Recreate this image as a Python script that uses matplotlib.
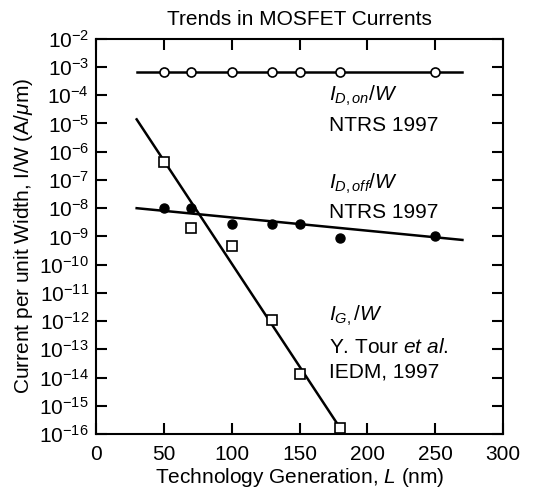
import numpy as np
import matplotlib
matplotlib.use("Agg")
import matplotlib.pyplot as plt
from matplotlib.ticker import LogLocator, NullLocator, FixedLocator

plt.rcParams['font.family'] = ['Liberation Sans', 'DejaVu Sans']
plt.rcParams['mathtext.fontset'] = 'custom'
plt.rcParams['mathtext.rm'] = 'Liberation Sans'
plt.rcParams['mathtext.it'] = 'Liberation Sans:italic'
plt.rcParams['mathtext.bf'] = 'Liberation Sans:bold'

# technology generation (nm)
gen_on = [50, 70, 100, 130, 150, 180, 250]
id_on = [6.6e-4, 6.6e-4, 6.6e-4, 6.6e-4, 6.6e-4, 6.6e-4, 6.6e-4]

gen_off = [50, 70, 100, 130, 150, 180, 250]
id_off = [1.0e-8, 1.0e-8, 2.8e-9, 2.8e-9, 2.8e-9, 9.0e-10, 1.0e-9]

gen_g = [50, 70, 100, 130, 150, 180]
ig = [4.5e-7, 2.0e-9, 4.5e-10, 1.1e-12, 1.3e-14, 1.6e-16]

# trend lines (end points)
fit_on_x, fit_on_y = [30, 270], [6.6e-4, 6.6e-4]
fit_off_x, fit_off_y = [30, 270], [1.0e-8, 7.5e-10]
fit_g_x, fit_g_y = [30, 180], [1.4e-5, 1.6e-16]

fig = plt.figure(figsize=(5.33, 4.91), dpi=100)
ax = fig.add_axes([0.180, 0.116, 0.764, 0.805])

lw = 1.8
ax.plot(fit_on_x, fit_on_y, color='black', lw=lw, zorder=2)
ax.plot(fit_off_x, fit_off_y, color='black', lw=lw, zorder=2)
ax.plot(fit_g_x, fit_g_y, color='black', lw=lw, zorder=2)

ax.plot(gen_on, id_on, 'o', ms=6.5, mfc='white', mec='black', mew=1.2, zorder=3)
ax.plot(gen_off, id_off, 'o', ms=6.5, mfc='black', mec='black', zorder=3)
ax.plot(gen_g, ig, 's', ms=7, mfc='white', mec='black', mew=1.2, zorder=3, clip_on=False)

ax.set_yscale('log')
ax.set_xlim(0, 300)
ax.set_ylim(1e-16, 1e-2)

ax.yaxis.set_major_locator(LogLocator(base=10, numticks=30))
ax.yaxis.set_minor_locator(NullLocator())
ax.xaxis.set_major_locator(FixedLocator([0, 50, 100, 150, 200, 250, 300]))
ax.tick_params(direction='in', length=8, width=1.5, top=True, right=True,
               labelsize=15)
ax.tick_params(axis='x', pad=8)
ax.tick_params(axis='y', pad=5)

for s in ax.spines.values():
    s.set_linewidth(1.5)

ax.set_title('Trends in MOSFET Currents', fontsize=15, pad=10)
ax.set_xlabel('Technology Generation, $L$ (nm)', fontsize=15, labelpad=1)
ax.set_ylabel('Current per unit Width, I/W (A/$\\mu$m)', fontsize=15, labelpad=3)

fs = 15
tx = 172
ax.text(tx, 10**-4.18, '$I_{D,on}/W$', fontsize=fs, va='baseline', ha='left')
ax.text(tx, 10**-5.26, 'NTRS 1997', fontsize=fs, va='baseline', ha='left')
ax.text(tx, 10**-7.3, '$I_{D,off}/W$', fontsize=fs, va='baseline', ha='left')
ax.text(tx, 10**-8.36, 'NTRS 1997', fontsize=fs, va='baseline', ha='left')
ax.text(tx, 10**-12.0, '$I_{G,}/W$', fontsize=fs, va='baseline', ha='left')
ax.text(tx, 10**-13.12, 'Y. Tour $et\\ al.$', fontsize=fs, va='baseline', ha='left')
ax.text(tx, 10**-14.0, 'IEDM, 1997', fontsize=fs, va='baseline', ha='left')

fig.savefig('out.png', dpi=100)
